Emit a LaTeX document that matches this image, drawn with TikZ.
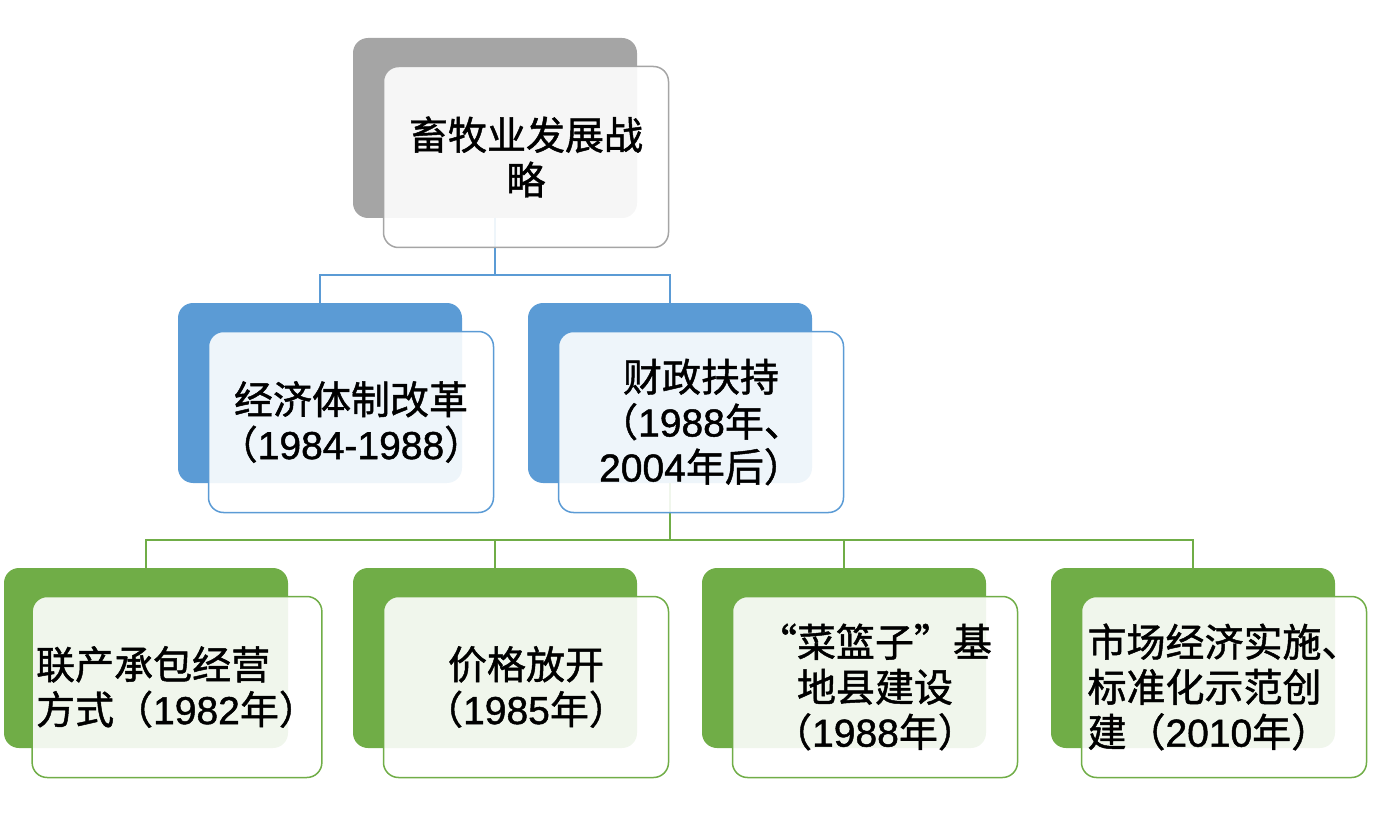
\documentclass[tikz,border=0pt]{standalone}
\usepackage{fontspec}
\setmainfont[RawFeature={embolden=1.2}]{Liberation Sans}
\newfontfamily\cjk[RawFeature={embolden=1.2}]{Noto Sans CJK SC}
\usetikzlibrary{positioning}
\definecolor{stone}{HTML}{A5A5A5}
\definecolor{blue}{HTML}{5B9BD5}
\definecolor{green}{HTML}{70AD47}
\newcommand{\zh}[1]{{\cjk #1}}

\begin{document}
\begin{tikzpicture}[font=\fontsize{19.5}{22.5}\selectfont,
  back/.style={rounded corners=7.5pt,minimum width=142pt,minimum height=90pt,inner sep=0pt,outer sep=0pt},
  front/.style={rounded corners=7.5pt,minimum width=142.5pt,minimum height=90.5pt,inner sep=2pt,align=center,fill=white,fill opacity=.9,text opacity=1,line width=.75pt},
  link/.style={line width=.75pt}]
\useasboundingbox (0,0) rectangle (697pt,408pt);
% back shapes
\node[back,fill=stone] (goal) at (247.5pt,344pt) {};
\node[back,fill=blue,below=42.5pt of goal,xshift=-87.5pt] (reform) {};
\node[back,fill=blue,below=42.5pt of goal,xshift=87.5pt] (fiscal) {};
\node[back,fill=green,below=42.5pt of fiscal,xshift=-87.5pt] (price) {};
\node[back,fill=green,left=32.5pt of price] (contract) {};
\node[back,fill=green,right=32.5pt of price] (basket) {};
\node[back,fill=green,right=32.5pt of basket] (market) {};

% connectors
\coordinate (goalsplit) at ([yshift=-28.5pt]goal.south);
\draw[link,draw=blue] (goal.south) -- (goalsplit) -| (reform.north);
\draw[link,draw=blue] (goalsplit) -| (fiscal.north);
\coordinate (fiscalsplit) at ([yshift=-28.5pt]fiscal.south);
\draw[link,draw=green] (fiscal.south) -- (fiscalsplit) -| (contract.north);
\draw[link,draw=green] (fiscalsplit) -| (price.north);
\draw[link,draw=green] (fiscalsplit) -| (basket.north);
\draw[link,draw=green] (fiscalsplit) -| (market.north);

% front boxes with text
\node[front,draw=stone] (goaltxt) at ([xshift=15.5pt,yshift=-14.5pt]goal.center) {\zh{畜牧业发展战}\\\zh{略}};
\node[front,draw=blue] (reformtxt) at ([xshift=15.5pt,yshift=-14.5pt]reform.center) {\zh{经济体制改革}\\\zh{（}1984-1988\zh{）}};
\node[front,draw=blue] (fiscaltxt) at ([xshift=15.5pt,yshift=-14.5pt]fiscal.center) {\zh{财政扶持}\\\zh{（}1988\zh{年、}\\2004\zh{年后）}};
\node[front,draw=green,align=left] (contracttxt) at ([xshift=15.5pt,yshift=-14.5pt]contract.center) {\zh{联产承包经营}\\\zh{方式（}1982\zh{年）}};
\node[front,draw=green] (pricetxt) at ([xshift=15.5pt,yshift=-14.5pt]price.center) {\zh{价格放开}\\\zh{（}1985\zh{年）}};
\node[front,draw=green] (baskettxt) at ([xshift=15.5pt,yshift=-14.5pt]basket.center) {\zh{“菜篮子”基}\\\zh{地县建设}\\\zh{（}1988\zh{年）}};
\node[front,draw=green,align=left] (markettxt) at ([xshift=15.5pt,yshift=-14.5pt]market.center) {\zh{市场经济实施、}\\\zh{标准化示范创}\\\zh{建（}2010\zh{年）}};
\end{tikzpicture}
\end{document}
